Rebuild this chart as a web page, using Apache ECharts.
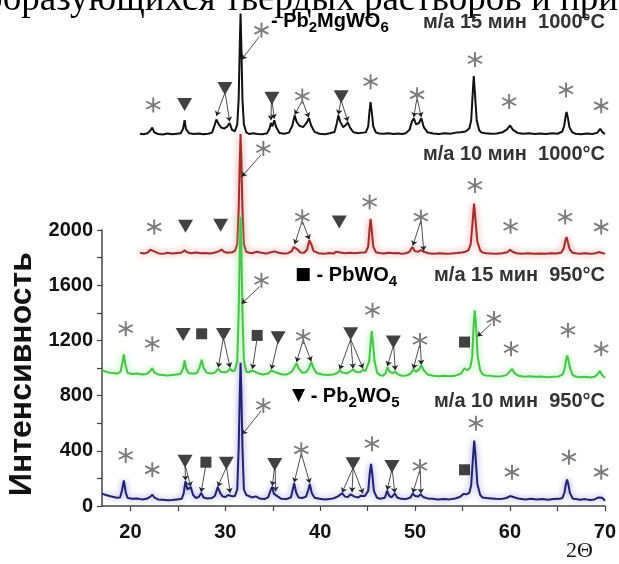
<!DOCTYPE html>
<html lang="ru">
<head>
<meta charset="UTF-8">
<title>XRD</title>
<script src="https://cdn.jsdelivr.net/npm/echarts@6/dist/echarts.min.js"></script>
<style>html,body{margin:0;padding:0;background:#fff;}</style>
</head>
<body>
<div id="main" style="width:619px;height:564px;"></div>
<script type="text/javascript">
// 2theta, intensity
var black1000_15 = [[21.0,2702],[21.4,2698],[21.8,2705],[22.1,2725],[22.3,2747],[22.5,2712],[22.9,2700],[23.4,2696],[23.9,2704],[24.4,2698],[24.9,2702],[25.3,2705],[25.55,2740],[25.7,2800],[25.85,2735],[26.2,2705],[26.7,2700],[27.2,2704],[27.7,2698],[28.2,2702],[28.6,2710],[28.85,2760],[29.05,2805],[29.3,2770],[29.6,2745],[29.9,2740],[30.2,2755],[30.45,2780],[30.7,2730],[31.0,2720],[31.25,2770],[31.4,2950],[31.52,3350],[31.6,3574],[31.68,3350],[31.8,2950],[31.95,2770],[32.2,2712],[32.5,2700],[32.9,2705],[33.4,2700],[33.9,2698],[34.4,2705],[34.65,2740],[34.8,2780],[34.95,2755],[35.15,2800],[35.35,2750],[35.7,2708],[36.2,2702],[36.7,2710],[37.05,2760],[37.3,2835],[37.5,2790],[37.8,2760],[38.2,2750],[38.55,2780],[38.8,2815],[39.05,2760],[39.4,2715],[39.9,2702],[40.5,2698],[41.0,2705],[41.5,2715],[41.75,2780],[41.9,2835],[42.1,2790],[42.4,2750],[42.7,2765],[42.9,2785],[43.15,2745],[43.5,2712],[44.0,2705],[44.5,2710],[44.8,2712],[45.05,2755],[45.18,2860],[45.3,2932],[45.42,2860],[45.58,2755],[45.85,2712],[46.2,2704],[46.7,2702],[47.2,2706],[47.7,2700],[48.2,2704],[48.6,2700],[49.0,2706],[49.4,2730],[49.65,2790],[49.85,2815],[50.1,2770],[50.4,2780],[50.65,2815],[50.9,2750],[51.3,2712],[51.9,2704],[52.5,2700],[53.1,2705],[53.7,2702],[54.3,2710],[54.8,2712],[55.3,2718],[55.7,2740],[55.9,2800],[56.05,2980],[56.17,3120],[56.3,2990],[56.48,2800],[56.75,2725],[57.0,2710],[57.4,2706],[58.0,2702],[58.6,2704],[59.2,2712],[59.7,2735],[60.0,2762],[60.3,2730],[60.8,2708],[61.4,2702],[62.0,2706],[62.6,2700],[63.2,2704],[63.8,2700],[64.4,2706],[65.0,2702],[65.5,2718],[65.7,2760],[65.85,2830],[65.95,2860],[66.08,2820],[66.25,2750],[66.55,2712],[66.9,2702],[67.5,2698],[68.1,2704],[68.7,2700],[69.2,2710],[69.5,2738],[69.75,2712],[70.0,2700]];

var red1000_10 = [[21.0,1838],[21.4,1832],[21.8,1840],[22.1,1860],[22.3,1872],[22.5,1848],[22.9,1835],[23.4,1830],[23.9,1838],[24.4,1832],[24.9,1836],[25.4,1840],[25.7,1855],[25.95,1842],[26.4,1835],[26.9,1840],[27.4,1834],[27.9,1836],[28.4,1832],[28.9,1840],[29.3,1848],[29.6,1862],[29.85,1845],[30.2,1838],[30.7,1842],[31.0,1850],[31.25,1900],[31.4,2150],[31.52,2500],[31.6,2700],[31.68,2520],[31.8,2150],[31.95,1900],[32.2,1845],[32.5,1838],[32.8,1835],[33.3,1845],[33.8,1838],[34.3,1832],[34.8,1842],[35.2,1848],[35.6,1838],[36.1,1832],[36.6,1835],[37.0,1850],[37.2,1880],[37.35,1892],[37.55,1865],[37.9,1840],[38.3,1838],[38.6,1860],[38.85,1928],[39.05,1900],[39.3,1850],[39.8,1835],[40.4,1830],[40.9,1836],[41.4,1832],[41.65,1845],[41.85,1855],[42.1,1840],[42.6,1834],[43.1,1838],[43.6,1834],[44.1,1838],[44.5,1840],[44.8,1842],[45.05,1885],[45.18,2000],[45.3,2085],[45.42,2000],[45.58,1885],[45.85,1842],[46.2,1836],[46.7,1832],[47.2,1838],[47.7,1834],[48.2,1836],[48.6,1830],[49.0,1834],[49.4,1845],[49.7,1880],[49.95,1850],[50.3,1845],[50.6,1858],[50.9,1845],[51.4,1835],[52.0,1830],[52.6,1834],[53.2,1830],[53.8,1832],[54.4,1836],[54.9,1840],[55.3,1846],[55.6,1855],[55.85,1900],[56.05,2060],[56.2,2195],[56.35,2080],[56.55,1920],[56.85,1855],[57.1,1840],[57.5,1835],[58.0,1832],[58.6,1830],[59.2,1834],[59.7,1842],[60.0,1860],[60.25,1845],[60.7,1835],[61.3,1830],[61.9,1834],[62.5,1830],[63.1,1832],[63.7,1830],[64.3,1834],[64.9,1832],[65.4,1840],[65.65,1870],[65.82,1925],[65.95,1952],[66.1,1910],[66.3,1860],[66.6,1838],[66.9,1834],[67.3,1830],[67.9,1834],[68.5,1830],[69.0,1835],[69.35,1843],[69.55,1848],[69.8,1835],[70.0,1830]];

var green950_15 = [[17.0,985],[17.4,975],[17.8,968],[18.2,965],[18.6,960],[18.95,975],[19.15,1040],[19.3,1100],[19.45,1030],[19.7,965],[20.2,958],[20.7,962],[21.2,955],[21.7,958],[22.1,980],[22.3,1001],[22.5,970],[22.9,955],[23.4,950],[23.9,948],[24.4,950],[24.9,955],[25.3,962],[25.55,1000],[25.7,1057],[25.85,1000],[26.1,965],[26.6,960],[27.0,965],[27.3,1010],[27.5,1062],[27.7,1005],[28.0,968],[28.5,962],[28.9,968],[29.25,996],[29.5,975],[29.9,970],[30.2,975],[30.5,996],[30.75,978],[31.0,985],[31.25,1050],[31.4,1400],[31.52,1850],[31.6,2100],[31.68,1880],[31.8,1400],[31.95,1060],[32.2,975],[32.5,970],[32.8,984],[33.1,975],[33.5,962],[34.0,955],[34.5,962],[34.85,984],[35.1,975],[35.5,965],[36.0,955],[36.5,955],[37.0,975],[37.3,1010],[37.5,1037],[37.7,1000],[38.1,968],[38.5,970],[38.8,1000],[39.05,1045],[39.3,1000],[39.6,965],[40.2,955],[40.8,950],[41.4,955],[41.8,965],[42.05,984],[42.3,970],[42.8,962],[43.2,978],[43.45,990],[43.8,972],[44.2,970],[44.5,990],[44.75,978],[44.95,990],[45.15,1050],[45.3,1180],[45.42,1270],[45.55,1180],[45.72,1050],[46.0,965],[46.3,950],[46.6,945],[46.9,965],[47.07,1008],[47.3,975],[47.6,965],[47.9,975],[48.2,955],[48.6,945],[49.1,948],[49.5,960],[49.8,990],[50.1,975],[50.4,990],[50.65,1020],[50.9,985],[51.3,955],[51.9,945],[52.5,942],[53.1,945],[53.7,942],[54.3,948],[54.8,960],[55.2,1000],[55.5,985],[55.8,1005],[56.0,1080],[56.15,1300],[56.27,1420],[56.4,1320],[56.58,1090],[56.85,985],[57.1,955],[57.4,948],[57.9,945],[58.5,940],[59.1,942],[59.6,950],[59.95,975],[60.2,996],[60.45,965],[60.9,945],[61.5,938],[62.1,942],[62.7,938],[63.3,940],[63.9,935],[64.5,938],[65.1,940],[65.55,955],[65.75,1000],[65.9,1060],[66.02,1093],[66.15,1060],[66.32,1000],[66.6,950],[66.9,940],[67.4,935],[67.9,938],[68.4,933],[68.9,938],[69.2,955],[69.45,979],[69.7,950],[70.0,930]];

var blue950_10 = [[17.0,90],[17.4,80],[17.8,72],[18.2,66],[18.6,60],[18.9,62],[19.1,110],[19.3,185],[19.5,100],[19.7,58],[20.2,52],[20.7,55],[21.2,48],[21.7,52],[22.1,68],[22.3,83],[22.5,62],[22.9,48],[23.4,45],[23.9,42],[24.4,44],[24.9,48],[25.4,52],[25.6,90],[25.8,180],[26.0,120],[26.2,110],[26.35,137],[26.6,80],[26.9,58],[27.2,66],[27.45,95],[27.7,62],[28.1,55],[28.6,58],[28.9,75],[29.2,137],[29.45,95],[29.7,70],[30.0,65],[30.3,80],[30.5,92],[30.75,70],[31.0,72],[31.25,120],[31.4,420],[31.52,820],[31.6,1040],[31.68,840],[31.8,420],[31.95,120],[32.2,80],[32.5,72],[32.8,62],[33.2,70],[33.6,55],[34.1,50],[34.5,62],[34.8,120],[34.95,140],[35.1,90],[35.3,100],[35.5,70],[35.9,52],[36.4,50],[36.9,62],[37.1,120],[37.25,165],[37.45,100],[37.7,62],[38.1,58],[38.5,68],[38.75,120],[38.9,160],[39.1,95],[39.4,60],[39.9,52],[40.5,48],[41.0,50],[41.5,58],[41.9,72],[42.3,93],[42.6,68],[42.9,65],[43.2,85],[43.35,98],[43.6,68],[44.0,62],[44.3,75],[44.5,85],[44.7,72],[44.85,72],[45.05,110],[45.2,230],[45.35,306],[45.48,230],[45.65,110],[45.95,62],[46.3,52],[46.8,60],[47.05,112],[47.25,75],[47.5,62],[47.85,90],[48.1,62],[48.5,52],[49.0,50],[49.5,62],[49.75,90],[49.95,75],[50.3,68],[50.6,85],[50.85,65],[51.3,55],[51.8,52],[52.4,48],[53.0,50],[53.6,48],[54.2,55],[54.7,65],[55.1,88],[55.4,85],[55.7,95],[55.9,150],[56.08,340],[56.22,475],[56.36,360],[56.55,160],[56.85,80],[57.1,62],[57.5,58],[58.0,55],[58.5,52],[59.0,50],[59.6,58],[60.0,72],[60.2,81],[60.5,62],[61.0,52],[61.6,48],[62.2,52],[62.8,48],[63.4,50],[64.0,46],[64.6,50],[65.2,52],[65.5,58],[65.72,95],[65.88,160],[66.0,192],[66.13,160],[66.3,95],[66.6,55],[66.9,50],[67.4,46],[67.9,50],[68.4,44],[68.9,48],[69.3,62],[69.5,76],[69.7,60],[70.0,38]];

// phase markers: * Pb2MgWO6, triangle Pb2WO5, square PbWO4
var stars = [
  [22.4,2910],[33.8,3453],[38.1,2975],[45.3,3080],[50.2,2985],[56.3,3240],[59.9,2935],[65.9,3020],[69.6,2905],
  [22.5,2025],[34.0,2594],[38.1,2097],[45.2,2206],[50.6,2097],[56.3,2327],[60.05,2030],[65.8,2097],[69.6,2025],
  [19.5,1287],[22.3,1178],[33.8,1638],[38.2,1231],[45.5,1420],[50.5,1202],[58.3,1360],[60.1,1142],[66.1,1275],[69.6,1142],
  [19.5,367],[22.3,263],[34.0,730],[38.0,408],[45.45,452],[50.5,287],[56.4,601],[60.2,245],[66.2,354],[69.6,245]
];
var triangles = [
  [25.7,2915],[29.95,3030],[34.9,2960],[42.2,2970],
  [25.8,2030],[29.5,2037],[42.0,2061],
  [25.55,1245],[29.8,1245],[35.55,1221],[43.2,1250],[47.7,1190],
  [25.75,325],[30.1,311],[35.2,301],[43.45,306],[47.55,287]
];
var squares = [
  [27.5,1250],[33.35,1238],[55.2,1190],
  [27.95,318],[55.2,263]
];
// arrows: from marker to peak
var arrows = [
  [33.55,3405,31.72,3240],[29.9,2990,29.05,2830],[30.0,2990,30.45,2790],[34.85,2925,34.8,2800],[34.95,2925,35.15,2810],
  [38.05,2935,37.3,2840],[38.15,2935,38.8,2820],[42.15,2935,41.9,2840],[42.25,2935,42.9,2790],[50.15,2945,49.85,2822],[50.25,2945,50.65,2822],
  [33.75,2548,31.72,2390],[38.05,2060,37.3,1900],[38.15,2060,38.85,1935],[50.55,2060,49.75,1890],[50.65,2060,50.9,1852],
  [33.6,1592,31.72,1468],[29.75,1205,29.25,1005],[29.85,1205,30.5,1005],[33.3,1198,32.85,995],[35.5,1182,34.85,992],
  [38.15,1195,37.5,1045],[38.25,1195,39.05,1050],[43.2,1210,42.05,990],[43.2,1210,43.45,998],[43.2,1210,44.5,998],
  [47.65,1152,47.07,1015],[47.75,1152,47.9,985],[50.45,1165,49.8,995],[50.55,1165,50.65,1025],[58.0,1322,56.55,1230],
  [33.75,690,31.78,519],[25.75,288,25.8,185],[25.8,288,26.35,140],[27.9,282,27.45,100],[30.05,272,29.2,140],[30.15,272,30.5,95],
  [35.15,264,34.95,145],[35.25,264,35.3,105],[37.95,370,37.25,170],[38.05,370,38.9,165],
  [43.4,270,42.3,97],[43.45,270,43.35,100],[43.5,270,44.5,90],[47.5,252,47.05,115],[47.6,252,47.85,95],[50.45,252,49.75,95],[50.55,252,50.6,90]
];

var xLabelValues = [20, 30, 40, 50, 60, 70];
var xTickValues = [20, 25, 30, 35, 40, 45, 50, 55, 60, 65, 70];
var yLabelValues = [0, 400, 800, 1200, 1600, 2000];
var yTickValues = [0, 200, 400, 600, 800, 1000, 1200, 1400, 1600, 1800, 2000];

var starPath = 'path://M44,0L56,0L56,100L44,100Z M3.2,31.1L9.2,20.7L96.8,68.9L90.8,79.3Z M9.2,79.3L3.2,68.9L90.8,20.7L96.8,31.1Z';

var chart = echarts.init(document.getElementById('main'));

var arrowData = arrows.map(function (a) {
  return [{coord: [a[0], a[1]]}, {coord: [a[2], a[3]]}];
});

function curve(name, data, color, glow, z) {
  return {
    name: name, type: 'line', xAxisIndex: 0, yAxisIndex: 0,
    data: data, symbol: 'none', z: z, silent: true,
    lineStyle: {color: color, width: 2, shadowBlur: glow ? 6 : 0, shadowColor: glow || 'transparent'}
  };
}

var subRich = {
  n: {fontFamily: 'Liberation Sans', fontWeight: 'bold', fontSize: 20, color: '#333', lineHeight: 28, verticalAlign: 'middle'},
  s: {fontFamily: 'Liberation Sans', fontWeight: 'bold', fontSize: 15, color: '#333', lineHeight: 28, verticalAlign: 'bottom'},
  m: {fontFamily: 'DejaVu Sans', fontSize: 17, color: '#111', lineHeight: 28, verticalAlign: 'middle'}
};
var condStyle = {fontFamily: 'Liberation Sans', fontWeight: 'bold', fontSize: 20, fill: '#333', align: 'right', verticalAlign: 'middle'};

function cond(text, y) {
  return {type: 'text', right: 14, top: y - 11, style: Object.assign({text: text}, condStyle), silent: true};
}

var option = {
  backgroundColor: '#fff',
  animation: false,
  grid: [
    {left: 102, right: 14, top: 10, bottom: 58},
    {left: 102, right: 14, top: 230, bottom: 58}
  ],
  xAxis: [
    {gridIndex: 0, type: 'value', min: 17, max: 70, show: false},
    {gridIndex: 1, type: 'value', min: 17, max: 70,
      axisLine: {show: true, lineStyle: {color: '#444', width: 1.5}},
      axisTick: {show: true, length: 5, customValues: xTickValues, lineStyle: {color: '#444', width: 1.2}},
      axisLabel: {customValues: xLabelValues, color: '#111', fontFamily: 'Liberation Sans', fontWeight: 'bold', fontSize: 20, margin: 16,
        formatter: function (v) { return String(v); }},
      splitLine: {show: false}}
  ],
  yAxis: [
    {gridIndex: 0, type: 'value', min: 0, max: 3600, show: false},
    {gridIndex: 1, type: 'value', min: 0, max: 2000,
      axisLine: {show: true, lineStyle: {color: '#444', width: 1.5}},
      axisTick: {show: true, length: 5, customValues: yTickValues, lineStyle: {color: '#444', width: 1.2}},
      axisLabel: {customValues: yLabelValues, color: '#111', fontFamily: 'Liberation Sans', fontWeight: 'bold', fontSize: 20, margin: 9,
        formatter: function (v) { return String(v); }},
      splitLine: {show: false}}
  ],
  graphic: [
    {type: 'text', left: -16, top: -18, silent: true,
      style: {text: 'образующихся твердых растворов и при', fontFamily: 'Liberation Serif', fontSize: 37, fill: '#000'}},
    {type: 'text', x: 22, y: 374, rotation: Math.PI / 2, silent: true,
      style: {text: 'Интенсивность', fontFamily: 'Liberation Sans', fontWeight: 'bold', fontSize: 32, fill: '#111', align: 'center', verticalAlign: 'middle'}},
    {type: 'text', left: 271, top: 11, silent: true,
      style: {text: '{n|- Pb}{s|2}{n|MgWO}{s|6}', rich: subRich}},
    cond('м/а 15 мин  1000°C', 23),
    cond('м/а 10 мин  1000°C', 155),
    {type: 'text', left: 295, top: 265, silent: true,
      style: {text: '{m|■}{n| - PbWO}{s|4}', rich: subRich}},
    cond('м/а 15 мин  950°C', 276),
    {type: 'text', left: 292, top: 386, silent: true,
      style: {text: '{m|▼}{n| - Pb}{s|2}{n|WO}{s|5}', rich: subRich}},
    cond('м/а 10 мин  950°C', 402),
    {type: 'text', left: 566, top: 540, silent: true,
      style: {text: '2Θ', fontFamily: 'Liberation Serif', fontSize: 22, fill: '#111'}}
  ],
  series: [
    curve('м/а 15 мин 1000°C', black1000_15, '#111111', null, 2),
    curve('м/а 10 мин 1000°C', red1000_10, '#9a3030', 'rgba(235,110,110,0.9)', 3),
    curve('м/а 15 мин 950°C', green950_15, '#4fbf4f', 'rgba(120,235,120,0.9)', 4),
    curve('м/а 10 мин 950°C', blue950_10, '#22226e', 'rgba(110,110,210,0.8)', 5),
    {name: 'Pb2MgWO6', type: 'scatter', xAxisIndex: 0, yAxisIndex: 0, z: 6, silent: true,
      data: stars, symbol: starPath, symbolSize: 15, itemStyle: {color: '#5a5a5a'},
      markLine: {silent: true, animation: false, symbol: ['none', 'arrow'], symbolSize: 5,
        label: {show: false}, lineStyle: {color: '#222', width: 0.8, type: 'solid'},
        emphasis: {disabled: true}, data: arrowData}},
    {name: 'Pb2WO5', type: 'scatter', xAxisIndex: 0, yAxisIndex: 0, z: 6, silent: true,
      data: triangles, symbol: 'triangle', symbolRotate: 180, symbolSize: [15, 13], itemStyle: {color: '#111'}},
    {name: 'PbWO4', type: 'scatter', xAxisIndex: 0, yAxisIndex: 0, z: 6, silent: true,
      data: squares, symbol: 'rect', symbolSize: 11, itemStyle: {color: '#111'}}
  ]
};
chart.setOption(option);
</script>
</body>
</html>
